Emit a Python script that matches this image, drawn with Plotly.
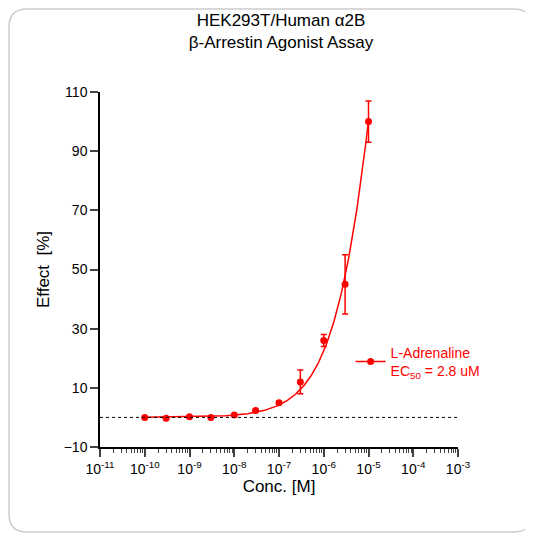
import numpy as np
import plotly.graph_objects as go

conc = [1e-10, 3e-10, 1e-9, 3e-9, 1e-8, 3e-8, 1e-7, 3e-7, 1e-6, 3e-6, 1e-5]
effect = [0.0, -0.3, 0.2, 0.0, 0.8, 2.3, 5.0, 12.0, 26.0, 45.0, 100.0]
err = [0.3, 0.3, 0.3, 0.3, 0.3, 0.4, 0.5, 4.0, 2.0, 10.0, 7.0]
top, ec50_fit, hill = 400.0, 4.3e-5, 0.75

xt = [10.0**k for k in range(-11, -2)]
xtt = ["10<sup>%d</sup>" % k for k in range(-11, -2)]
yt = [-10, 10, 30, 50, 70, 90, 110]

red = "#ff0000"
xc = np.logspace(-10, -5, 300)
yc = top / (1 + (ec50_fit / xc) ** hill)

fig = go.Figure()
fig.add_trace(go.Scatter(x=xc, y=yc, mode="lines", line=dict(color=red, width=1.5),
                         showlegend=False, hoverinfo="skip"))
fig.add_trace(go.Scatter(x=conc, y=effect, mode="markers",
                         marker=dict(color=red, size=7),
                         error_y=dict(array=err, color=red, thickness=1.5, width=3),
                         showlegend=False))
fig.add_trace(go.Scatter(x=[None], y=[None], mode="markers+lines",
                         line=dict(color=red, width=1.5), marker=dict(color=red, size=7),
                         name="L-Adrenaline<br>EC<sub>50</sub> = 2.8 uM"))
fig.add_shape(type="line", xref="x domain", x0=0, x1=1, yref="y", y0=0, y1=0,
              line=dict(color="black", width=1, dash="dot"))

W = H = 525
ml, mr, mt, mb = 92, 75, 84, 86
pw, ph = W - ml - mr, H - mt - mb
x0 = -(ml - 1) / pw; x1 = 1 + (mr - 1) / pw
y0 = -(mb - 1) / ph; y1 = 1 + (mt - 1) / ph
r = 18
rx, ry = r / pw, r / ph
path = (f"M {x0+rx},{y0} L {x1-rx},{y0} Q {x1},{y0} {x1},{y0+ry} L {x1},{y1-ry} "
        f"Q {x1},{y1} {x1-rx},{y1} L {x0+rx},{y1} Q {x0},{y1} {x0},{y1-ry} "
        f"L {x0},{y0+ry} Q {x0},{y0} {x0+rx},{y0} Z")
fig.add_shape(type="path", xref="paper", yref="paper", path=path,
              line=dict(color="#cccccc", width=1.5), layer="below")

fig.update_layout(
    width=W, height=H, margin=dict(l=ml, r=mr, t=mt, b=mb),
    paper_bgcolor="white", plot_bgcolor="white",
    font=dict(family="Liberation Sans, Arial", size=14, color="black"),
    title=dict(text="HEK293T/Human α2B<br>β-Arrestin Agonist Assay", x=0.52, xanchor="center",
               y=0.965, yanchor="top", font=dict(size=17)),
    xaxis=dict(type="log", range=[-11, -3], tickvals=xt, ticktext=xtt,
               showline=True, linecolor="black", linewidth=1.5, ticks="outside",
               ticklen=8, tickwidth=1.5, showgrid=False, zeroline=False,
               minor=dict(ticks="outside", ticklen=4, tickwidth=1, dtick="D1", showgrid=False),
               title=dict(text="Conc. [M]", standoff=4)),
    yaxis=dict(range=[-10, 110], tickvals=yt, showline=True, linecolor="black",
               linewidth=1.5, ticks="outside", ticklen=8, tickwidth=1.5,
               showgrid=False, zeroline=False, title=dict(text="Effect  [%]", standoff=10)),
    legend=dict(x=0.7, y=0.24, xanchor="left", yanchor="middle", bgcolor="rgba(0,0,0,0)",
                font=dict(color=red, size=14)),
)
fig.write_html("out.html")
